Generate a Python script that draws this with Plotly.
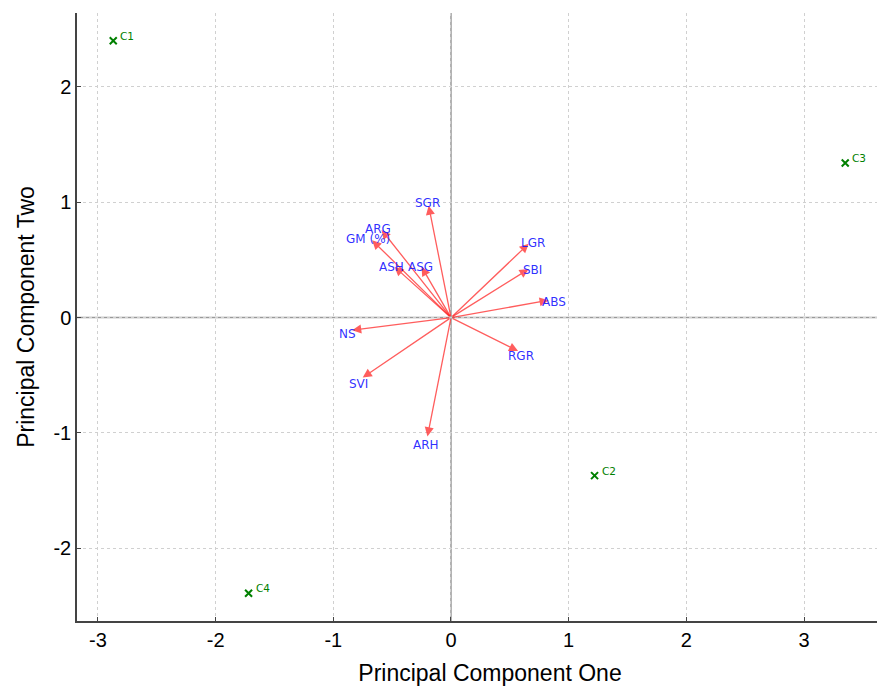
import plotly.graph_objects as go

# Sample scores
sample_names = ["C1", "C2", "C3", "C4"]
sample_pc1 = [-2.87, 1.22, 3.35, -1.72]
sample_pc2 = [2.40, -1.37, 1.34, -2.39]

# Variable loadings (arrow tips)
var_names = ["SGR", "ARG", "GM (%)", "ASH", "ASG", "LGR", "SBI", "ABS", "RGR", "NS", "SVI", "ARH"]
var_pc1 = [-0.19, -0.59, -0.67, -0.48, -0.25, 0.66, 0.66, 0.83, 0.57, -0.84, -0.75, -0.20]
var_pc2 = [0.97, 0.76, 0.67, 0.44, 0.44, 0.64, 0.42, 0.15, -0.29, -0.11, -0.52, -1.03]
label_scale = 1.05

x_ticks = [-3, -2, -1, 0, 1, 2, 3]
y_ticks = [-2, -1, 0, 1, 2]

fig = go.Figure()

# Axis lines through origin
fig.add_shape(type="line", xref="paper", yref="y", x0=0, x1=1, y0=0, y1=0,
              line=dict(color="#999999", width=1.5), layer="below")
fig.add_shape(type="line", xref="x", yref="paper", x0=0, x1=0, y0=0, y1=1,
              line=dict(color="#999999", width=1.5), layer="below")

annotations = []
for n, px, py in zip(var_names, var_pc1, var_pc2):
    annotations.append(dict(x=px, y=py, ax=0, ay=0, xref="x", yref="y", axref="x", ayref="y",
                            text="", showarrow=True, arrowhead=2, arrowsize=1.4, arrowwidth=1.3,
                            arrowcolor="rgba(255,40,40,0.75)"))
for n, px, py in zip(var_names, var_pc1, var_pc2):
    annotations.append(dict(x=px * label_scale, y=py * label_scale, xref="x", yref="y", text=n,
                            showarrow=False, xanchor="center", yanchor="middle", yshift=-3,
                            font=dict(family="DejaVu Sans", size=12, color="rgba(20,20,255,0.9)")))
for n, px, py in zip(sample_names, sample_pc1, sample_pc2):
    annotations.append(dict(x=px, y=py, xref="x", yref="y", text=n, showarrow=False,
                            xanchor="left", yanchor="middle", xshift=5, yshift=5,
                            font=dict(family="DejaVu Sans", size=10.5, color="green")))

fig.add_trace(go.Scatter(
    x=sample_pc1, y=sample_pc2, mode="markers",
    marker=dict(symbol="x-thin", size=7, color="green", line=dict(width=2, color="green")),
    showlegend=False))

fig.update_layout(
    width=903, height=686,
    margin=dict(l=77, r=0, t=13, b=65),
    plot_bgcolor="white", paper_bgcolor="white",
    annotations=annotations,
    font=dict(family="Liberation Sans, Arial", color="black"),
    xaxis=dict(range=[-3.178, 3.841], tickvals=x_ticks, ticktext=[str(t) for t in x_ticks],
               showgrid=True, gridcolor="#d0d0d0", griddash="dot", gridwidth=1,
               zeroline=False, showline=True, linecolor="#444444", linewidth=1.5,
               ticks="inside", ticklen=4, tickcolor="#444444", automargin=False,
               tickfont=dict(size=20), title=dict(text="Principal Component One", font=dict(size=23), standoff=15)),
    yaxis=dict(range=[-2.63, 2.64], tickvals=y_ticks, ticktext=[str(t) for t in y_ticks],
               showgrid=True, gridcolor="#d0d0d0", griddash="dot", gridwidth=1,
               zeroline=False, showline=True, linecolor="#444444", linewidth=1.5,
               ticks="inside", ticklen=4, tickcolor="#444444", automargin=False,
               tickfont=dict(size=20), title=dict(text="Principal Component Two", font=dict(size=23), standoff=12)),
)

fig.write_html("out.html", config={"displayModeBar": False},
               post_script="document.body.style.margin='0';document.body.style.overflow='hidden';"
                           "document.documentElement.style.overflow='hidden';")
